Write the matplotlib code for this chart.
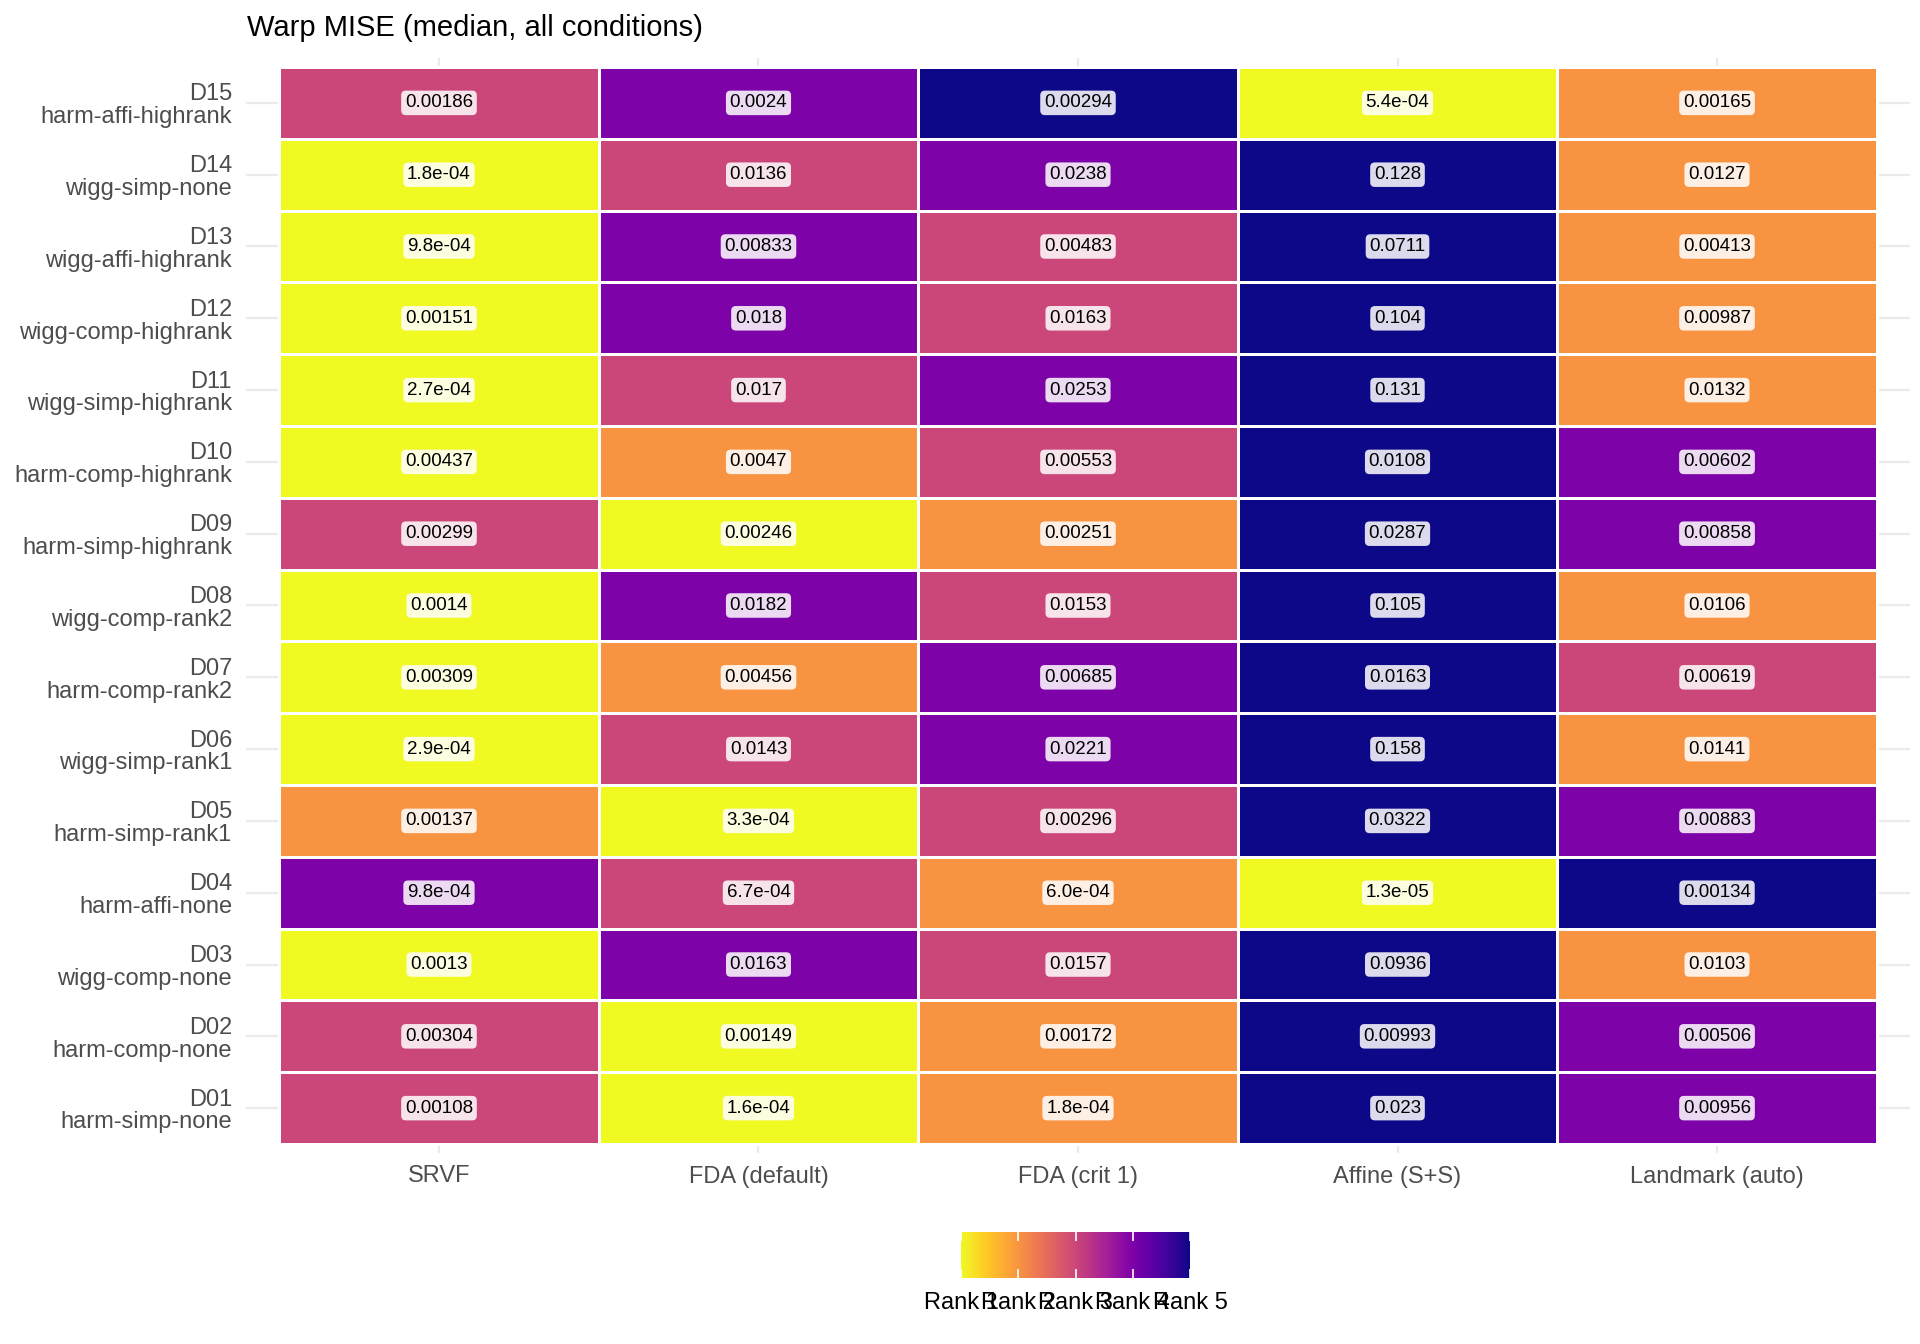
import matplotlib
matplotlib.use("Agg")
import matplotlib.pyplot as plt
import numpy as np

plt.rcParams['font.family'] = ['Liberation Sans', 'DejaVu Sans']

# Data
methods = ["SRVF", "FDA (default)", "FDA (crit 1)", "Affine (S+S)", "Landmark (auto)"]
datasets = ["D01\nharm-simp-none", "D02\nharm-comp-none", "D03\nwigg-comp-none",
            "D04\nharm-affi-none", "D05\nharm-simp-rank1", "D06\nwigg-simp-rank1",
            "D07\nharm-comp-rank2", "D08\nwigg-comp-rank2", "D09\nharm-simp-highrank",
            "D10\nharm-comp-highrank", "D11\nwigg-simp-highrank", "D12\nwigg-comp-highrank",
            "D13\nwigg-affi-highrank", "D14\nwigg-simp-none", "D15\nharm-affi-highrank"]

# median warp MISE, one row per dataset (D01 .. D15), columns follow methods
srvf      = [0.00108, 0.00304, 0.0013, 9.8e-4, 0.00137, 2.9e-4, 0.00309, 0.0014,
             0.00299, 0.00437, 2.7e-4, 0.00151, 9.8e-4, 1.8e-4, 0.00186]
fda_def   = [1.6e-4, 0.00149, 0.0163, 6.7e-4, 3.3e-4, 0.0143, 0.00456, 0.0182,
             0.00246, 0.0047, 0.017, 0.018, 0.00833, 0.0136, 0.0024]
fda_crit1 = [1.8e-4, 0.00172, 0.0157, 6.0e-4, 0.00296, 0.0221, 0.00685, 0.0153,
             0.00251, 0.00553, 0.0253, 0.0163, 0.00483, 0.0238, 0.00294]
affine    = [0.023, 0.00993, 0.0936, 1.3e-5, 0.0322, 0.158, 0.0163, 0.105,
             0.0287, 0.0108, 0.131, 0.104, 0.0711, 0.128, 5.4e-4]
landmark  = [0.00956, 0.00506, 0.0103, 0.00134, 0.00883, 0.0141, 0.00619, 0.0106,
             0.00858, 0.00602, 0.0132, 0.00987, 0.00413, 0.0127, 0.00165]
rank_labels = ["Rank 1", "Rank 2", "Rank 3", "Rank 4", "Rank 5"]

mise = np.array([srvf, fda_def, fda_crit1, affine, landmark]).T
ranks = mise.argsort(axis=1).argsort(axis=1) + 1


def fmt(v):
    return f"{v:.1e}" if v < 1e-3 else f"{v:.3g}"


W, H = 1920, 1344
fig = plt.figure(figsize=(W / 100, H / 100), dpi=100)
ax = fig.add_axes([246 / W, 1 - 1153 / H, 1664 / W, 1095 / H])

nr, nc = ranks.shape
xe = np.arange(nc + 1) - 0.5
ye = np.arange(nr + 1) - 0.5
ax.pcolormesh(xe, ye, ranks, cmap="plasma_r", vmin=1, vmax=5,
              edgecolors="white", linewidth=2.0, zorder=2)

for i in range(nr):
    for j in range(nc):
        ax.text(j, i, fmt(mise[i, j]), ha="center", va="center", fontsize=13.5,
                color="black", zorder=3,
                bbox=dict(boxstyle="round,pad=0.2,rounding_size=0.25",
                          fc=(1, 1, 1, 0.86), ec="none"))

ax.set_xlim(-0.604, nc - 0.5 + 0.104)
ax.set_ylim(-0.625, nr - 0.5 + 0.125)
ax.set_xticks(range(nc), methods)
ax.set_yticks(range(nr), datasets)
ax.tick_params(length=0, labelsize=17, labelcolor="#4D4D4D")
ax.tick_params(axis="y", pad=10)
ax.tick_params(axis="x", pad=9)
for lab in ax.get_yticklabels():
    lab.set_linespacing(1.05)
ax.grid(True, color="#EBEBEB", linewidth=1.6, zorder=0)
ax.set_axisbelow(True)
for s in ax.spines.values():
    s.set_visible(False)

fig.text(247 / W, 1 - 36 / H, "Warp MISE (median, all conditions)", fontsize=21,
         ha="left", va="baseline", color="black")

# colour legend
cax = fig.add_axes([961 / W, 1 - 1278 / H, 229 / W, 46 / H])
grad = np.linspace(1, 5, 256).reshape(1, -1)
cax.imshow(grad, cmap="plasma_r", vmin=1, vmax=5, aspect="auto",
           extent=[1, 5, 0, 1], interpolation="bilinear")
cax.vlines(range(1, 6), 0, 0.2, color="white", linewidth=1.2)
cax.vlines(range(1, 6), 0.8, 1, color="white", linewidth=1.2)
cax.set_xlim(1, 5)
cax.set_ylim(0, 1)
cax.set_xticks(range(1, 6), rank_labels)
cax.set_yticks([])
cax.tick_params(length=0, labelsize=17, labelcolor="black", pad=10)
for s in cax.spines.values():
    s.set_visible(False)

fig.savefig("out.png", dpi=100, facecolor="white")
